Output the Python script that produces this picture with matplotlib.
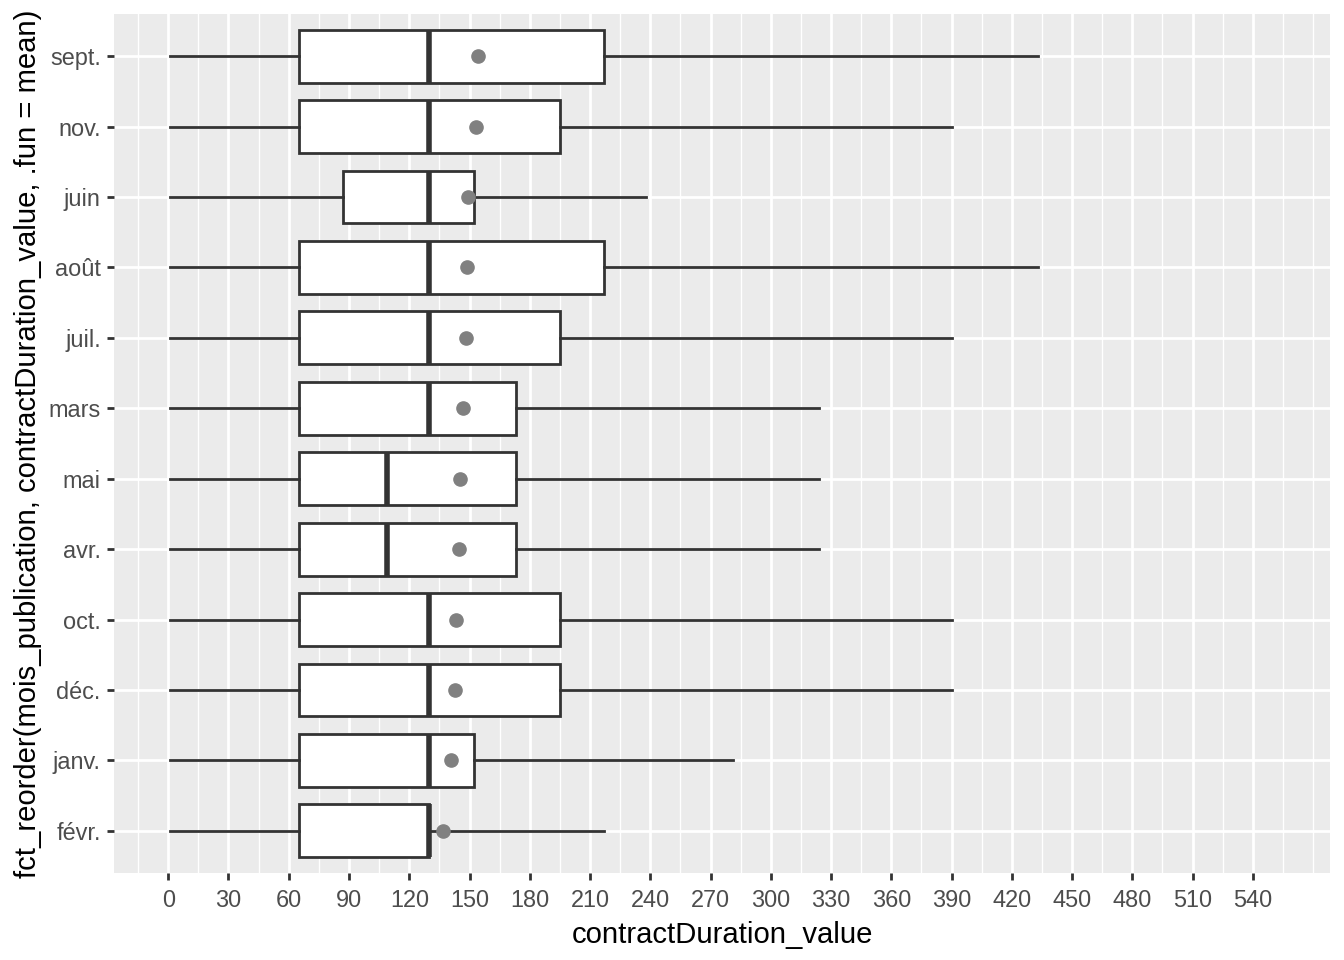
import numpy as np
import matplotlib
matplotlib.use("Agg")
import matplotlib.pyplot as plt

plt.rcParams['font.family'] = ['Liberation Sans', 'DejaVu Sans']

# months ordered by mean duration, bottom to top
months = ['févr.', 'janv.', 'déc.', 'oct.', 'avr.', 'mai', 'mars',
          'juil.', 'août', 'juin', 'nov.', 'sept.']
whis_lo = [1, 1, 1, 1, 1, 1, 1, 1, 1, 1, 1, 1]
q1 = [65, 65, 65, 65, 65, 65, 65, 65, 65, 87, 65, 65]
medians = [130, 130, 130, 130, 109, 109, 130, 130, 130, 130, 130, 130]
q3 = [130, 152, 195, 195, 173, 173, 173, 195, 217, 152, 195, 217]
whis_hi = [217, 281, 390, 390, 324, 324, 324, 390, 433, 238, 390, 433]
means = [136.8, 140.9, 142.7, 143.5, 144.8, 145.3, 146.6, 148.2, 148.7, 149.2, 153.2, 154.2]

x_ticks = list(range(0, 541, 30))

dark = '#333333'

fig = plt.figure(figsize=(13.44, 9.6), dpi=100)
ax = fig.add_axes([114 / 1344, 1 - 873 / 960, (1330 - 114) / 1344, (873 - 14) / 960])
ax.set_facecolor('#EBEBEB')

pos = np.arange(1, len(months) + 1)

# grid (drawn under the boxes)
minor = [-15] + [t + 15 for t in x_ticks] + [570]
for m in minor:
    ax.axvline(m, color='white', lw=1.0, zorder=0)
for t in x_ticks:
    ax.axvline(t, color='white', lw=2.0, zorder=0)
for p in pos:
    ax.axhline(p, color='white', lw=2.0, zorder=0)

stats = []
for i in range(len(months)):
    stats.append(dict(whislo=whis_lo[i], q1=q1[i], med=medians[i], q3=q3[i],
                      whishi=whis_hi[i], label=months[i]))

ax.bxp(stats, positions=pos, widths=0.75, orientation='horizontal',
       patch_artist=True, showfliers=False, showcaps=False,
       boxprops=dict(facecolor='white', edgecolor=dark, linewidth=2.0),
       medianprops=dict(color=dark, linewidth=4.0, solid_capstyle='butt'),
       whiskerprops=dict(color=dark, linewidth=2.0),
       manage_ticks=False, zorder=2)

# mean points
ax.plot(means, pos, 'o', color='#808080', markersize=9.5, zorder=3)

ax.set_xlim(-27, 578.4)
ax.set_ylim(0.4, 12.6)
ax.set_xticks(x_ticks)
ax.set_yticks(pos)
ax.set_yticklabels(months)

for s in ax.spines.values():
    s.set_visible(False)

ax.tick_params(axis='both', colors=dark, length=5.3, width=2.0,
               labelsize=16.9, labelcolor='#4D4D4D', pad=4.2)
ax.tick_params(axis='x', pad=6.5)

ax.set_xlabel('contractDuration_value', fontsize=21.1, color='black', labelpad=6)
ax.set_ylabel('fct_reorder(mois_publication, contractDuration_value, .fun = mean)',
              fontsize=21.1, color='black', labelpad=5)

fig.savefig('out.png', dpi=100)
